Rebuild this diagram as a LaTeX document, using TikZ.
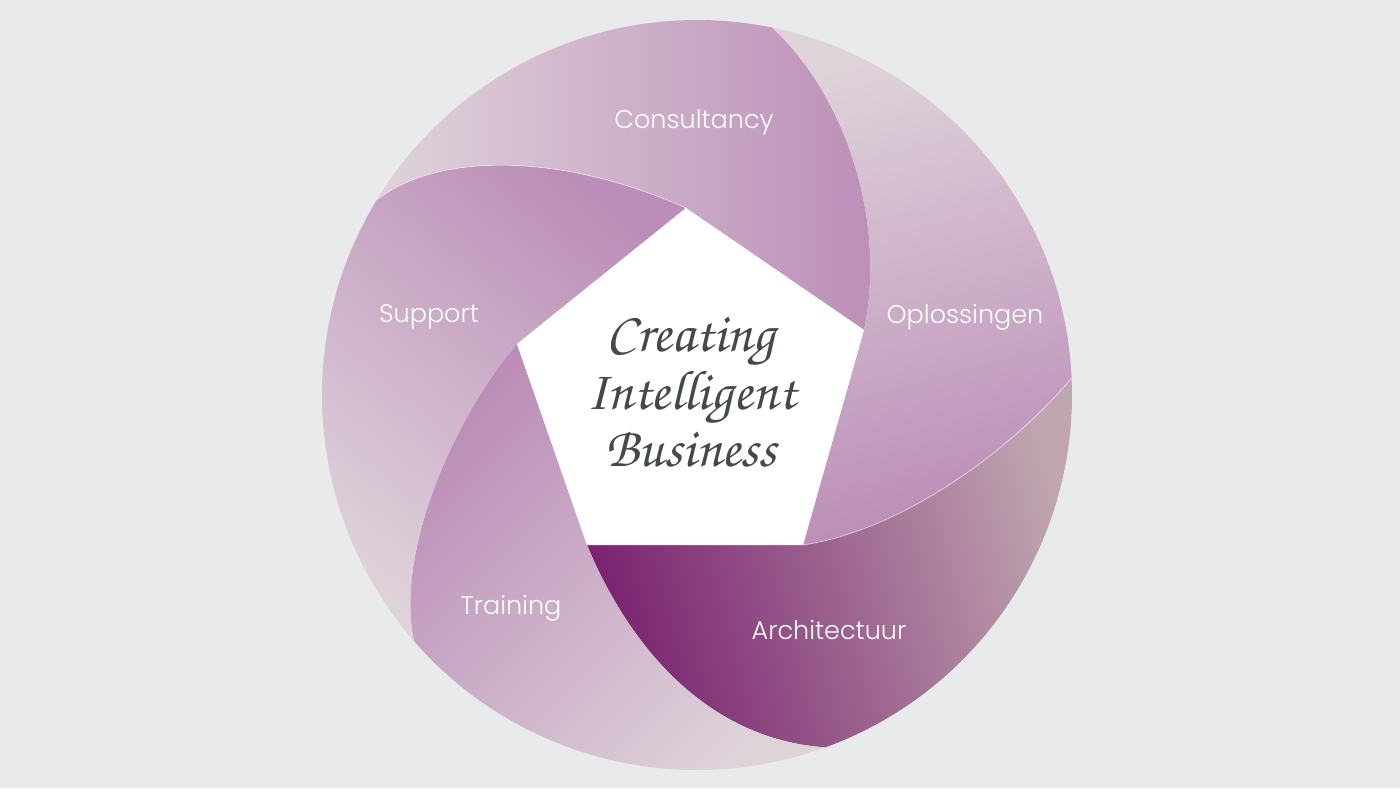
\documentclass[tikz,border=0pt]{standalone}
\usepackage[T1,TU]{fontenc}
\usepackage{fontspec}
\IfFontExistsTF{Poppins Light}{\newfontfamily\labelfont{Poppins Light}}{\newfontfamily\labelfont{Poppins}}
\newcommand\handfont{\fontencoding{T1}\fontfamily{pzc}\selectfont}
\definecolor{bgrey}{HTML}{E9EAEC}
\definecolor{mauve}{HTML}{BB8DB8}
\definecolor{mist}{HTML}{DFD3DA}
\definecolor{plum}{HTML}{7A2270}
\definecolor{grape}{HTML}{8A4381}
\definecolor{dusk}{HTML}{C0A6B0}
\definecolor{ink}{HTML}{43484C}
\begin{document}
\begin{tikzpicture}[x=1pt,y=1pt,
    label/.style={text=white,font=\labelfont\fontsize{25.5}{28}\selectfont},
    seam/.style={white,opacity=.55,line width=.8pt}]
  \fill[bgrey] (-697,-393) rectangle (703,395);
  \useasboundingbox (-697,-393) rectangle (703,395);
  % pentagon corners
  \coordinate (T) at (-11,187);
  \coordinate (R) at (167,65);
  \coordinate (BR) at (106,-150);
  \coordinate (BL) at (-110,-150);
  \coordinate (L) at (-180,51);
  % where the blades meet the rim
  \coordinate (pT) at (148.6:375);
  \coordinate (pR) at (78.45:375);
  \coordinate (pBR) at (2.6:375);
  \coordinate (pBL) at (-70:375);
  \coordinate (pL) at (221:375);
  % blades
  \shade[left color=mist,right color=mauve]
    (T) -- (R) .. controls (190,175) and (148,300) .. (pR)
    arc[start angle=78.45,end angle=148.6,radius=375pt]
    .. controls (-255,245) and (-130,240) .. (T) -- cycle;
  \shade[top color=mist,bottom color=mauve,shading angle=15]
    (R) -- (BR) .. controls (206,-135) and (314,-55) .. (pBR)
    arc[start angle=2.6,end angle=78.45,radius=375pt]
    .. controls (148,300) and (190,175) .. (R) -- cycle;
  \shade[top color=plum,middle color=grape,bottom color=dusk,shading angle=105]
    (BR) -- (BL) .. controls (-62,-265) and (20,-345) .. (pBL)
    arc[start angle=-70,end angle=2.6,radius=375pt]
    .. controls (314,-55) and (206,-135) .. (BR) -- cycle;
  \shade[top color=mauve,bottom color=mist,shading angle=45]
    (BL) -- (L) .. controls (-245,-25) and (-302,-160) .. (pL)
    arc[start angle=221,end angle=290,radius=375pt]
    .. controls (20,-345) and (-62,-265) .. (BL) -- cycle;
  \shade[top color=mauve,bottom color=mist,shading angle=-40]
    (L) -- (T) .. controls (-130,240) and (-255,245) .. (pT)
    arc[start angle=148.6,end angle=221,radius=375pt]
    .. controls (-302,-160) and (-245,-25) .. (L) -- cycle;
  % light seams
  \draw[seam] (T) .. controls (-130,240) and (-255,245) .. (pT);
  \draw[seam] (BR) .. controls (206,-135) and (314,-55) .. (pBR);
  \fill[white] (T) -- (R) -- (BR) -- (BL) -- (L) -- cycle;
  \node[text=ink,align=center,font=\handfont\fontsize{56}{57}\selectfont] (core) at (-6,3)
    {Creating\\Intelligent\\Business};
  \node[label] (consultancy) at (-3,273) {Consultancy};
  \node[label] (oplossingen) at (268,78) {Oplossingen};
  \node[label] (architectuur) at (132,-235) {Architectuur};
  \node[label] (training) at (-186,-213) {Training};
  \node[label] (support) at (-268,78) {Support};
\end{tikzpicture}
\end{document}
